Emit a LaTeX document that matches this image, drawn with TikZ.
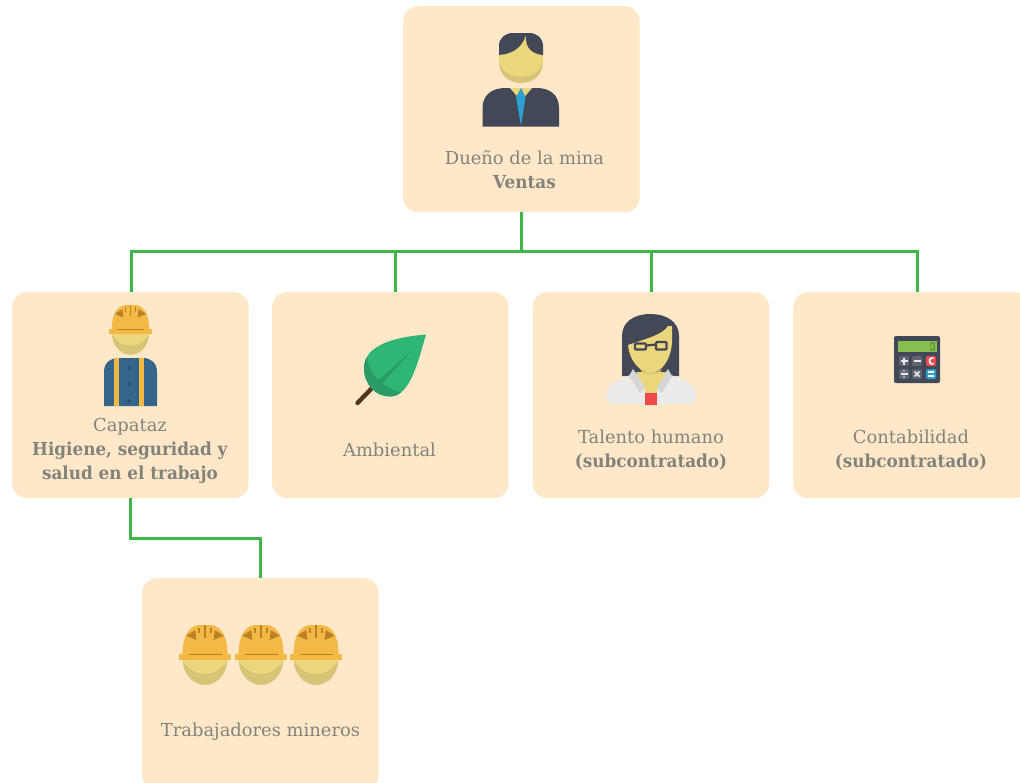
\documentclass[tikz,border=0pt]{standalone}
\usepackage{fontspec}
\setmainfont[BoldFeatures={FakeStretch=0.94}]{DejaVu Serif}
\definecolor{boxfill}{HTML}{FEE8C8}
\definecolor{linkgreen}{HTML}{3FB54A}
\definecolor{txt}{HTML}{83837C}
\definecolor{navy}{HTML}{434856}
\definecolor{skin}{HTML}{EBD67C}
\definecolor{skindark}{HTML}{D6C577}
\definecolor{hat}{HTML}{F4B844}
\definecolor{hatdark}{HTML}{B98227}
\definecolor{shirt}{HTML}{336688}
\definecolor{shirtdark}{HTML}{234A66}
\definecolor{tieblue}{HTML}{2F9FD0}
\definecolor{leafc}{HTML}{2FB574}
\definecolor{leafd}{HTML}{2A9A66}
\definecolor{stem}{HTML}{54361F}
\definecolor{coat}{HTML}{EBEBEB}
\definecolor{coatd}{HTML}{D6D6D4}
\definecolor{redc}{HTML}{EF4A4A}
\definecolor{screenc}{HTML}{86BF50}
\definecolor{screend}{HTML}{6C9C45}
\definecolor{keyc}{HTML}{5F6470}
\tikzset{
  x=1pt,y=-1pt,
  card/.style={fill=boxfill,rounded corners=15pt,minimum width=236.5pt,minimum height=206pt,inner sep=0pt,draw=none,anchor=north west},
  cardtext/.style={text=txt,font=\fontsize{17.9}{24}\selectfont,align=center,inner sep=0pt},
  link/.style={draw=linkgreen,line width=3pt},
}
\newcommand{\helmetfig}[3]{%
\begin{scope}[shift={(#1,#2)},scale=#3]
  \fill[skindark] (-22.5,33) -- (22.5,33) .. controls (22.5,49) and (12,60) .. (0,60) .. controls (-12,60) and (-22.5,49) .. (-22.5,33) -- cycle;
  \fill[skin] (-22.5,33) -- (22.5,33) .. controls (22.5,39) and (12,49) .. (0,49) .. controls (-12,49) and (-22.5,39) .. (-22.5,33) -- cycle;
  \fill[hat] (-22.5,30) .. controls (-22.5,9) and (-15,1) .. (-6,0) -- (6,0) .. controls (15,1) and (22.5,9) .. (22.5,30) -- cycle;
  \fill[hat] (-26,29.3) rectangle (26,35);
  \fill[hatdark] (-18.7,10.7) -- (-9.7,5) -- (-8.7,15) -- cycle;
  \fill[hatdark] (18.7,10.7) -- (9.7,5) -- (8.7,15) -- cycle;
  \fill[hatdark] (-1.1,0) rectangle (1.1,13);
  \fill[hatdark] (-6.9,3) rectangle (-5.4,8);
  \fill[hatdark] (6.9,3) rectangle (5.4,8);
  \fill[hatdark] (-16.5,28.6) rectangle (16.5,30.4);
\end{scope}}
\begin{document}
\begin{tikzpicture}
\useasboundingbox (0,0) rectangle (1020,782);
% boxes
\node[card] (owner) at (403,6) {};
\node[card] (capataz) at (12,292) {};
\node[card] (amb) at (272,292) {};
\node[card] (talento) at (532.5,292) {};
\node[card] (conta) at (793,292) {};
\node[card,minimum height=212pt] (mineros) at (142,578) {};
% connectors
\coordinate (hub) at (owner.south |- 0,251);
\coordinate (hl) at (131,251);
\coordinate (h2) at (395,251);
\coordinate (h3) at (651,251);
\coordinate (h4) at (917,251);
\coordinate (capdrop) at (130.5,498);
\coordinate (elbow1) at (130.5,538);
\coordinate (elbow2) at (260.5,538);
\draw[link] (owner.south) -- (hub);
\draw[link] (hl |- capataz.north) -- (hl) -- (h4) -- (h4 |- conta.north);
\draw[link] (h2) -- (h2 |- amb.north);
\draw[link] (h3) -- (h3 |- talento.north);
\draw[link] (capdrop) -- (elbow1) -- (elbow2) -- (elbow2 |- mineros.north);
% labels
\node[cardtext] (t1) at (524.5,170) {Dueño de la mina\\\textbf{Ventas}};
\node[cardtext] (t2) at (130,451) {Capataz\\\textbf{Higiene, seguridad y}\\\textbf{salud en el trabajo}};
\node[cardtext] (t3) at (389.5,450) {Ambiental};
\node[cardtext] (t4) at (651,450.5) {Talento humano\\\textbf{(subcontratado)}};
\node[cardtext] (t5) at (911,450.5) {Contabilidad\\\textbf{(subcontratado)}};
\node[cardtext] (t6) at (260.5,731.5) {Trabajadores mineros};
% owner icon
\fill[navy] (482.5,126.5) -- (482.5,108) .. controls (482.5,95) and (492,88) .. (505,88) -- (537,88) .. controls (550,88) and (559,95) .. (559,108) -- (559,126.5) -- cycle;
\fill[skin] (510,88) -- (532,88) -- (521,101) -- cycle;
\fill[tieblue] (521,88) -- (525.5,97) -- (521,126) -- (516,97) -- cycle;
\fill[skindark] (499,50) -- (499,62) .. controls (499,75) and (509,83) .. (521,83) .. controls (533,83) and (543,75) .. (543,62) -- (543,50) -- cycle;
\fill[skin] (499.3,45) -- (499,59) .. controls (499,69) and (509,77) .. (521,77) .. controls (533,77) and (543,69) .. (543,59) -- (542.7,45) -- (526,34) -- cycle;
\fill[navy] (499,55) -- (499,46) .. controls (499,38) and (505,33) .. (513,33) -- (529,33) .. controls (537,33) and (543,38) .. (543,46) -- (543,55) .. controls (532,54) and (525,48) .. (526,35) .. controls (522,48) and (512,54) .. (499,55) -- cycle;
% foreman icon
\fill[shirt] (104,406) -- (104,372) .. controls (104,363) and (110,358) .. (118,358) -- (143,358) .. controls (151,358) and (157,363) .. (157,372) -- (157,406) -- cycle;
\fill[hat] (114,358) rectangle (119,406);
\fill[hat] (139,358) rectangle (144,406);
\foreach \yy in {368,384,401} \fill[shirtdark] (129,\yy) circle (1.8);
\helmetfig{130.5}{305}{.83}
% leaf icon
\draw[stem,line width=4.4pt,line cap=round] (373,387) -- (357.5,403);
\fill[leafc] (426,334.5) .. controls (395,337) and (364,345) .. (364,368) .. controls (364,385) and (376,396.5) .. (390,396.5) .. controls (410,396.5) and (418,362) .. (426,334.5) -- cycle;
\begin{scope}
  \clip (426,334.5) .. controls (395,337) and (364,345) .. (364,368) .. controls (364,385) and (376,396.5) .. (390,396.5) .. controls (410,396.5) and (418,362) .. (426,334.5) -- cycle;
  \fill[leafd] (367,358) .. controls (369,370) and (376,380) .. (386,386) .. controls (392,390) and (398,392) .. (404,393) -- (400,402) -- (360,402) -- (358,358) -- cycle;
  \fill[leafd] (413,349.5) -- (372,386) -- (376,390) -- cycle;
\end{scope}
% woman icon
\fill[navy] (622,376) -- (622,336) .. controls (622,322) and (634,314) .. (650,314) .. controls (667,314) and (679,322) .. (679,336) -- (679,376) -- cycle;
\fill[coat] (606,395) .. controls (606,384) and (620,380) .. (632,374) -- (669,374) .. controls (682,380) and (696,384) .. (696,395) .. controls (696,401) and (692,404) .. (688,404) -- (614,404) .. controls (610,404) and (606,401) .. (606,395) -- cycle;
\fill[coatd] (633,369) -- (646,387) -- (640,393) -- (629,376) -- cycle;
\fill[coatd] (668,369) -- (656,387) -- (662,393) -- (672,376) -- cycle;
\fill[skin] (645,405) -- (645,387) -- (636,372) -- (666,372) -- (657,387) -- (657,405) -- cycle;
\fill[skin] (628,345) .. controls (629,360) and (640,373) .. (651,373) .. controls (662,373) and (672,358) .. (672,340) -- (672,326) -- (668,326) .. controls (662,335) and (648,338) .. (628,345) -- cycle;
\fill[skindark] (640,369) .. controls (646,374) and (656,374) .. (662,369) .. controls (660,376) and (642,376) .. (640,369) -- cycle;
\fill[redc] (645,393) rectangle (657,405);
\draw[navy,line width=2.2pt,rounded corners=1pt] (635,343.5) rectangle (646,349.5);
\draw[navy,line width=2.2pt,rounded corners=1pt] (656,342) rectangle (666.5,349.5);
\draw[navy,line width=2.2pt] (646,345.5) -- (656,344.5);
% calculator icon
\fill[navy,rounded corners=2pt] (894,336) rectangle (940,383);
\fill[screenc] (898,341) rectangle (937,352);
\draw[screend,line width=1.2pt] (930.5,343) rectangle (934,350);
\foreach \xx/\yy/\cc in {899/356/keyc,912/356/keyc,926/356/redc,899/369/keyc,912/369/keyc,926/369/tieblue}
  \fill[\cc,rounded corners=1.5pt] (\xx,\yy) rectangle ++(10,10);
\draw[coat,line width=1.5pt] (900.5,361) -- (907.5,361) (904,357.5) -- (904,364.5);
\draw[coat,line width=1.5pt] (913.5,361) -- (920.5,361);
\draw[white,line width=1.7pt] (933.5,358) .. controls (930,358) and (929.5,359.5) .. (929.5,361) .. controls (929.5,362.5) and (930,364) .. (933.5,364);
\draw[coat,line width=1.2pt] (900.5,374) -- (907.5,374);
\fill[coat] (904,371) circle (.9) (904,377) circle (.9);
\draw[coat,line width=1.5pt] (914.5,371.5) -- (919.5,376.5) (914.5,376.5) -- (919.5,371.5);
\draw[white,line width=1.4pt] (928,372) -- (934,372) (928,376) -- (934,376);
% workers
\helmetfig{205}{625}{1}
\helmetfig{261}{625}{1}
\helmetfig{316}{625}{1}
\end{tikzpicture}
\end{document}
